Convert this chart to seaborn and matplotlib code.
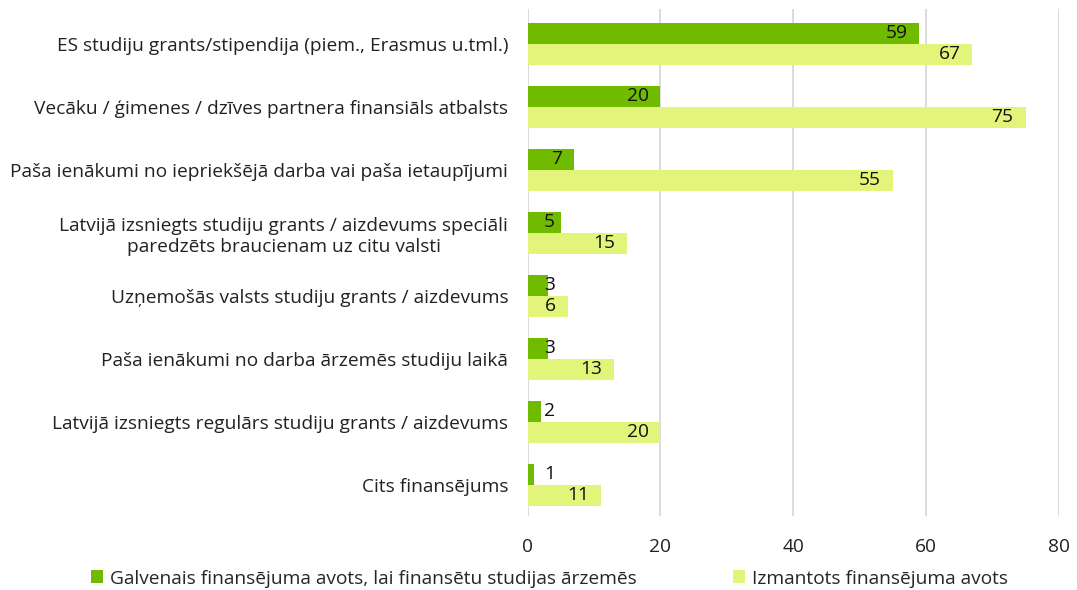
import matplotlib
matplotlib.use("Agg")
import matplotlib.pyplot as plt
import seaborn as sns
import pandas as pd
from matplotlib.patches import Patch

categories = [
    "ES studiju grants/stipendija (piem., Erasmus u.tml.)",
    "Vecāku / ģimenes / dzīves partnera finansiāls atbalsts",
    "Paša ienākumi no iepriekšējā darba vai paša ietaupījumi",
    "Latvijā izsniegts studiju grants / aizdevums speciāli\nparedzēts braucienam uz citu valsti",
    "Uzņemošās valsts studiju grants / aizdevums",
    "Paša ienākumi no darba ārzemēs studiju laikā",
    "Latvijā izsniegts regulārs studiju grants / aizdevums",
    "Cits finansējums",
]
main_source = [59, 20, 7, 5, 3, 3, 2, 1]
used_source = [67, 75, 55, 15, 6, 13, 20, 11]
series = [
    "Galvenais finansējuma avots, lai finansētu studijas ārzemēs",
    "Izmantots finansējuma avots",
]
x_ticks = [0, 20, 40, 60, 80]

colors = ["#70BA00", "#E3F47A"]
FS = 13.8

df = pd.DataFrame({
    "category": categories * 2,
    "value": main_source + used_source,
    "series": [series[0]] * len(categories) + [series[1]] * len(categories),
})

sns.set_theme(style="white")
plt.rcParams["font.family"] = ["Open Sans", "DejaVu Sans"]

fig, ax = plt.subplots(figsize=(10.77, 5.9), dpi=100)
fig.subplots_adjust(left=0.49, right=0.983, top=0.985, bottom=0.125)

sns.barplot(data=df, y="category", x="value", hue="series", palette=colors,
            orient="h", width=0.67, gap=0, saturation=1, linewidth=0,
            ax=ax, legend=False, zorder=3)

ax.set_xlim(0, 80)
ax.set_ylim(7.5, -0.555)
ax.set_xticks(x_ticks)
ax.set_xticklabels([str(t) for t in x_ticks], fontsize=FS, color="#222222")
ax.set_xlabel("")
ax.set_ylabel("")
ax.tick_params(axis="x", length=0, pad=16)
ax.tick_params(axis="y", length=0, pad=14)
for lbl in ax.get_yticklabels():
    lbl.set_fontsize(FS)
    lbl.set_color("#222222")
    lbl.set_multialignment("center")
    lbl.set_linespacing(1.25)
ax.grid(axis="x", color="#D9D9D9", linewidth=1.3, zorder=0)
for s in ax.spines.values():
    s.set_visible(False)

# value labels at the inner end of each bar, kept clear of the axis
for container in ax.containers:
    for bar in container:
        v = bar.get_width()
        yc = bar.get_y() + bar.get_height() / 2
        xpos = max(v - 1.8, 4.1)
        ax.text(xpos, yc, f"{v:g}", ha="right", va="center",
                fontsize=FS, color="#111111", zorder=4)

handles = [Patch(facecolor=c, edgecolor="none") for c in colors]
fig.legend(handles, series, loc="lower center", bbox_to_anchor=(0.51, -0.025),
           ncol=2, frameon=False, fontsize=FS, handlelength=0.65,
           handleheight=0.65, handletextpad=0.35, columnspacing=5.0)

fig.savefig("out.png", dpi=100)
